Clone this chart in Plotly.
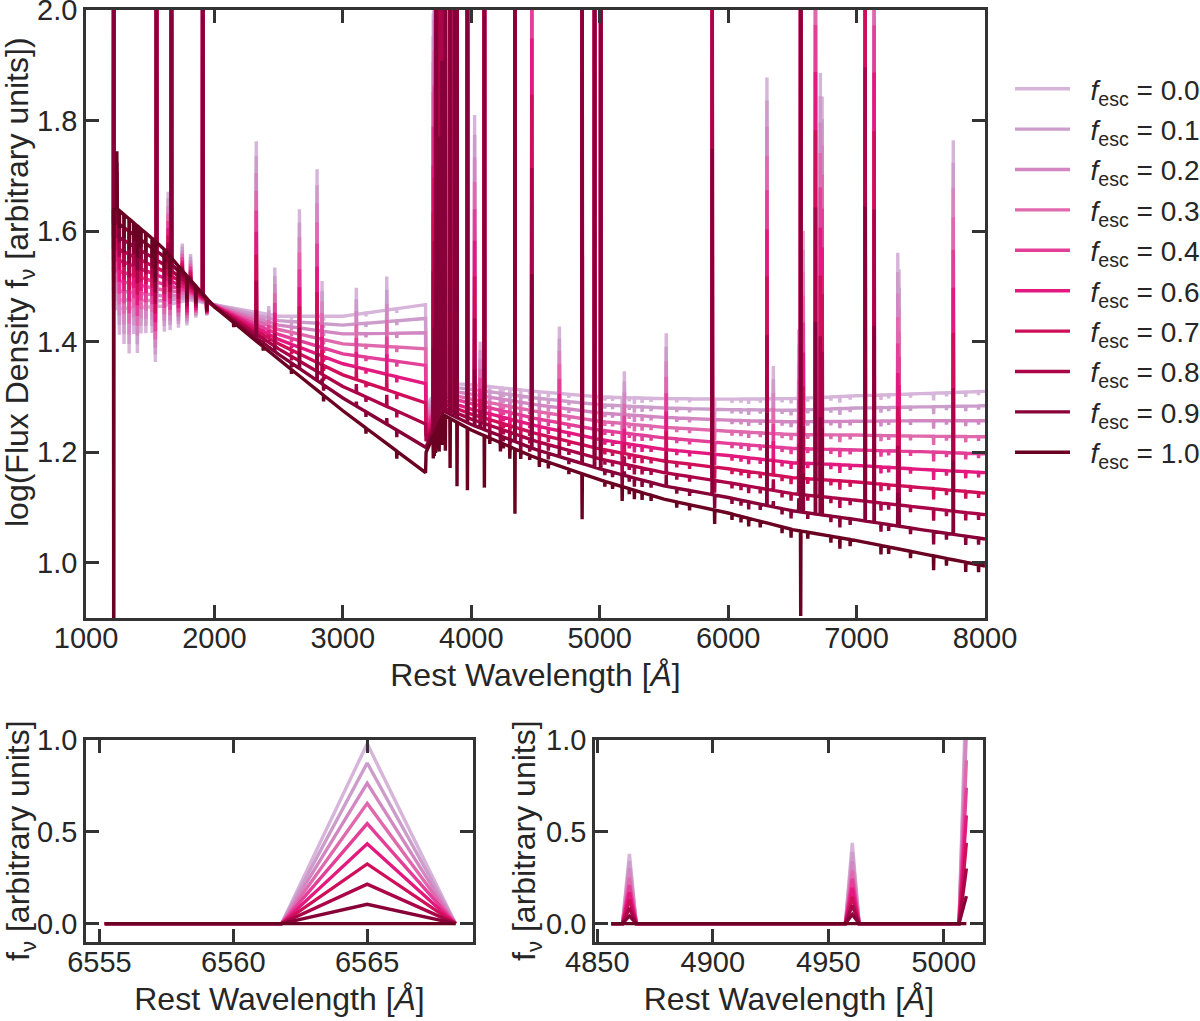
import numpy as np
import plotly.graph_objects as go

# escape fractions (legend labels) and line colours, light -> dark
fesc_labels = ["0.0", "0.1", "0.2", "0.3", "0.4", "0.6", "0.7", "0.8", "0.9", "1.0"]
colors = ["#d7b4d9", "#cc9ccb", "#d287c3", "#e068ad", "#e33e98",
          "#e3197f", "#cf0f5a", "#ab0449", "#880038", "#6a0022"]

# continuum of the main panel, log flux read at these wavelengths
wave_anchor = [1205, 1250, 1590, 1800, 2000, 2500, 3000, 3644, 3648, 3780,
               4000, 4500, 5000, 5500, 6000, 6500, 7000, 7500, 8000]
cont_f00 = [1.460, 1.460, 1.464, 1.476, 1.467, 1.446, 1.446, 1.467, 1.285, 1.325,
            1.322, 1.310, 1.300, 1.297, 1.296, 1.297, 1.302, 1.306, 1.310]
cont_f01 = [1.476, 1.476, 1.474, 1.480, 1.467, 1.438, 1.430, 1.442, 1.277, 1.319,
            1.314, 1.298, 1.286, 1.280, 1.277, 1.276, 1.280, 1.282, 1.284]
cont_f02 = [1.492, 1.492, 1.483, 1.483, 1.466, 1.430, 1.414, 1.416, 1.268, 1.313,
            1.305, 1.286, 1.271, 1.263, 1.258, 1.255, 1.256, 1.257, 1.257]
cont_f03 = [1.510, 1.510, 1.494, 1.487, 1.466, 1.422, 1.396, 1.387, 1.259, 1.307,
            1.296, 1.274, 1.256, 1.245, 1.238, 1.232, 1.231, 1.229, 1.228]
cont_f04 = [1.528, 1.528, 1.505, 1.491, 1.465, 1.413, 1.378, 1.357, 1.249, 1.301,
            1.288, 1.261, 1.240, 1.226, 1.216, 1.207, 1.204, 1.201, 1.197]
cont_f06 = [1.548, 1.548, 1.517, 1.495, 1.465, 1.404, 1.360, 1.324, 1.240, 1.294,
            1.278, 1.248, 1.223, 1.205, 1.194, 1.181, 1.176, 1.169, 1.163]
cont_f07 = [1.568, 1.568, 1.529, 1.500, 1.464, 1.396, 1.340, 1.289, 1.230, 1.288,
            1.269, 1.234, 1.206, 1.184, 1.170, 1.154, 1.146, 1.136, 1.126]
cont_f08 = [1.590, 1.590, 1.542, 1.504, 1.464, 1.387, 1.319, 1.251, 1.220, 1.281,
            1.260, 1.220, 1.188, 1.163, 1.145, 1.125, 1.113, 1.100, 1.087]
cont_f09 = [1.614, 1.614, 1.557, 1.510, 1.463, 1.377, 1.298, 1.209, 1.210, 1.275,
            1.250, 1.205, 1.170, 1.139, 1.118, 1.094, 1.078, 1.060, 1.043]
cont_f10 = [1.639, 1.639, 1.572, 1.515, 1.463, 1.368, 1.275, 1.163, 1.200, 1.268,
            1.240, 1.190, 1.150, 1.115, 1.090, 1.060, 1.040, 1.017, 0.994]
continua = [cont_f00, cont_f01, cont_f02, cont_f03, cont_f04,
            cont_f06, cont_f07, cont_f08, cont_f09, cont_f10]

# emission lines: wavelength, nebular flux at fesc=0 (linear), stellar part (linear)
line_wave = [1216, 1240, 1549, 1640, 1665, 1750, 1814, 1909,
             2326, 2423, 2470, 2662, 2799, 2838, 3105, 3342,
             3704, 3712, 3722, 3727, 3734, 3750, 3771, 3798, 3835, 3869, 3889, 3970,
             4026, 4069, 4102, 4340, 4471, 4686, 4863, 4960, 5008, 5192, 5518, 5876,
             6302, 6352, 6550, 6565, 6585, 6680, 6718, 6732, 7067, 7137, 7321, 7331, 7753]
line_neb = [5000, 0, 5000, 17.6, 5000, 8.1, 6.3, 5000,
            29.5, 1.0, 6.2, 15.7, 23.6, 4.4, 3.3, 4.3,
            80, 100, 150, 5000, 250, 400, 600, 900, 1500, 5000, 5000, 5000,
            43.6, 4.2, 5000, 5000, 160, 6.5, 5000, 5000, 5000, 2.3, 6.2, 400,
            55.7, 2.9, 6.6, 5000, 20.0, 140, 57.0, 49.8, 300, 140, 16.2, 13.8, 37.8]
line_star = [-40, 12, 0, 0, 0, 0, 0, 0,
             0, 0, 0, 0, 0, 0, 0, 0,
             -1.5, -1.5, -1.5, 0, -1.5, -2, -2, -2.5, -3.4, 0, -4.2, -4.0,
             0, 0, -3.3, -3.8, 0, 0, -2.5, 0, 0, 0, 0, 0,
             0, 0, 0, -3.4, 0, 0, 0, 0, 0, 0, 0, 0, 0]

# stellar absorption dips (linear depth)
absorb_wave = [1260, 1296, 1336, 1371, 1400, 1428, 1466, 1515, 1540, 1610, 1655,
               1720, 1786, 1855, 1940, 2150, 2380, 2600, 2850, 3180, 3420,
               4144, 4227, 4250, 4300, 4385, 4455, 4530, 4600, 4760, 5040, 5100,
               5175, 5230, 5270, 5330, 5400, 5600, 5700, 5895, 6030, 6100, 6160,
               6250, 6420, 6490, 6620, 6800, 6870, 6950, 7190, 7250, 7420, 7600,
               7700, 7850, 7950]
absorb_depth = [3, 4, 5, 3, 5, 3, 3, 3, 6, 3, 3,
                3, 3, 2, 1.5, 0.5, 0.4, 0.4, 0.5, 0.4, 0.5,
                0.4, 0.6, 0.3, 0.8, 0.5, 0.3, 0.5, 0.4, 0.3, 0.3, 0.3,
                0.8, 0.3, 0.5, 0.4, 0.3, 0.3, 0.3, 0.7, 0.3, 0.3, 0.4,
                0.3, 0.3, 0.4, 0.3, 0.3, 0.5, 0.3, 0.4, 0.3, 0.3, 0.6,
                0.3, 0.4, 0.3]

# H-alpha inset
halpha_wave = [6555.2, 6558.5, 6561.8, 6565.0, 6568.3]
halpha_peak = [0.98, 0.875, 0.765, 0.655, 0.545, 0.435, 0.325, 0.215, 0.105, 0.0]

# H-beta / [OIII] inset
hb_oiii_wave = [4856.1, 4860.9, 4863.9, 4866.9, 4957.4, 4960.4, 4963.4, 5006.6, 5009.8]
hbeta_peak = [0.38, 0.34, 0.30, 0.25, 0.21, 0.17, 0.13, 0.085, 0.042, 0.0]
oiii4960_peak = [0.44, 0.39, 0.34, 0.29, 0.245, 0.195, 0.145, 0.10, 0.05, 0.0]
oiii5008_edge = [1.33, 1.18, 1.04, 0.89, 0.74, 0.59, 0.44, 0.30, 0.15, 0.0]

AX = "#333333"
TXT = "#262626"
FONT = "Liberation Sans, Arial, sans-serif"
LW = 3.4


def build_spectrum(cont, scale):
    xs, ys = list(wave_anchor), list(cont)
    feats = [(w, n, s) for w, n, s in zip(line_wave, line_neb, line_star)]
    feats += [(w, 0.0, -d) for w, d in zip(absorb_wave, absorb_depth)]
    for w, neb, star in feats:
        lo, mid, hi = np.interp([w - 2, w, w + 2], wave_anchor, cont)
        peak = np.log10(max(10 ** mid + star + neb * scale, 0.3))
        xs += [w - 2, w, w + 2]
        ys += [lo, peak, hi]
    order = np.argsort(xs, kind="stable")
    return np.array(xs)[order], np.array(ys)[order]


fig = go.Figure()

for i, lab in enumerate(fesc_labels):
    x, y = build_spectrum(continua[i], halpha_peak[i] / halpha_peak[0])
    fig.add_trace(go.Scatter(
        x=x, y=y, mode="lines", line=dict(color=colors[i], width=LW),
        name=f"&nbsp;&nbsp;<i>f</i><sub>esc</sub> = {lab}", legendgroup=lab,
        xaxis="x", yaxis="y",
    ))

for i, lab in enumerate(fesc_labels):
    fig.add_trace(go.Scatter(
        x=halpha_wave, y=[0, 0, 0, halpha_peak[i], 0], mode="lines",
        line=dict(color=colors[i], width=LW), showlegend=False,
        xaxis="x2", yaxis="y2",
    ))
    fig.add_trace(go.Scatter(
        x=hb_oiii_wave,
        y=[0, 0, hbeta_peak[i], 0, 0, oiii4960_peak[i], 0, 0, oiii5008_edge[i]],
        mode="lines", line=dict(color=colors[i], width=LW), showlegend=False,
        xaxis="x3", yaxis="y3",
    ))


def axis_style(**kw):
    d = dict(showline=True, linecolor=AX, linewidth=2.5, mirror="allticks",
             ticks="inside", ticklen=13, tickwidth=2.5, tickcolor=AX,
             showgrid=False, zeroline=False, automargin=False,
             ticklabeloverflow="allow",
             tickfont=dict(size=29, color=TXT, family=FONT))
    d.update(kw)
    return d


W, H = 1200, 1021
title_font = dict(size=32, color=TXT, family=FONT)
wl_title = "Rest Wavelength [<i>Å</i>]"
fnu_title = "f<sub>ν</sub> [arbitrary units]"

fig.update_layout(
    width=W, height=H,
    margin=dict(l=0, r=0, t=0, b=0, autoexpand=False),
    paper_bgcolor="white", plot_bgcolor="white",
    font=dict(family=FONT, color=TXT),
    xaxis=axis_style(domain=[86 / W, 985 / W], range=[1000, 8000], anchor="y",
                     tickvals=[1000, 2000, 3000, 4000, 5000, 6000, 7000, 8000],
                     ticklabelstandoff=-8,
                     title=dict(text=wl_title, font=title_font, standoff=12)),
    yaxis=axis_style(domain=[1 - 618 / H, 1 - 10 / H], range=[0.9, 2.0001], anchor="x",
                     tickvals=[1.0, 1.2, 1.4, 1.6, 1.8, 2.0], tickformat=".1f"),
    xaxis2=axis_style(domain=[86 / W, 473 / W], range=[6554.5, 6568.95], anchor="y2",
                      tickvals=[6555, 6560, 6565], ticklabelstandoff=-8,
                      title=dict(text=wl_title, font=title_font, standoff=12)),
    yaxis2=axis_style(domain=[1 - 942 / H, 1 - 740 / H], range=[-0.1, 1.0001], anchor="x2",
                      tickvals=[0.0, 0.5, 1.0], tickformat=".1f"),
    xaxis3=axis_style(domain=[595 / W, 983 / W], range=[4849, 5017], anchor="y3",
                      tickvals=[4850, 4900, 4950, 5000], ticklabelstandoff=-8,
                      title=dict(text=wl_title, font=title_font, standoff=12)),
    yaxis3=axis_style(domain=[1 - 942 / H, 1 - 740 / H], range=[-0.1, 1.0001], anchor="x3",
                      tickvals=[0.0, 0.5, 1.0], tickformat=".1f"),
    legend=dict(x=1010 / W, y=1 - 64 / H, xanchor="left", yanchor="top",
                font=dict(size=28, color=TXT, family=FONT),
                bgcolor="rgba(0,0,0,0)", tracegroupgap=1, itemwidth=55),
    annotations=[
        dict(text="log(Flux Density f<sub>ν</sub> [arbitrary units])",
             textangle=-90, x=19 / W, y=1 - 282 / H, xref="paper", yref="paper",
             xanchor="center", yanchor="middle", showarrow=False, font=title_font),
        dict(text=fnu_title, textangle=-90, x=20 / W, y=1 - 841 / H,
             xref="paper", yref="paper", xanchor="center", yanchor="middle",
             showarrow=False, font=title_font),
        dict(text=fnu_title, textangle=-90, x=526 / W, y=1 - 841 / H,
             xref="paper", yref="paper", xanchor="center", yanchor="middle",
             showarrow=False, font=title_font),
    ],
)

fig.write_html("out.html", config={"displayModeBar": False},
               post_script="document.body.style.margin='0';")
